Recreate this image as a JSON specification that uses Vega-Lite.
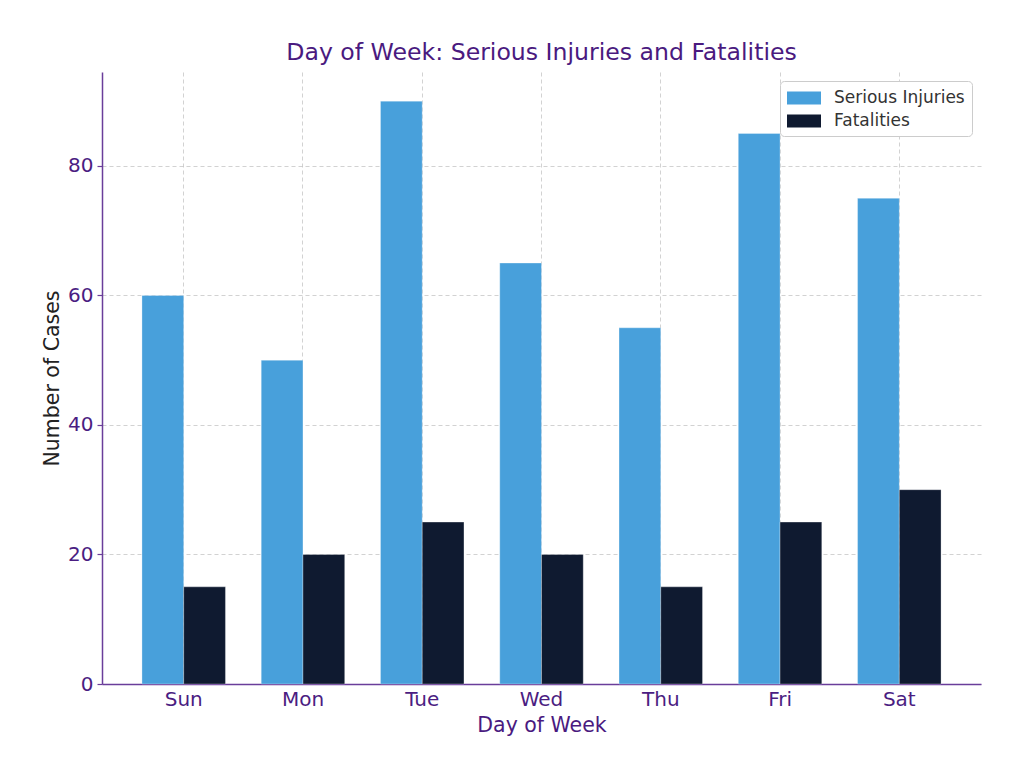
{
  "$schema": "https://vega.github.io/schema/vega-lite/v6.json",
  "autosize": {"type": "none"},
  "padding": {"left": 102, "top": 72, "right": 43, "bottom": 96},
  "width": 879,
  "height": 612,
  "background": "white",
  "title": {
    "text": "Day of Week: Serious Injuries and Fatalities",
    "anchor": "middle",
    "frame": "group",
    "offset": 7,
    "fontSize": 23.6,
    "fontWeight": "normal",
    "font": "DejaVu Sans",
    "color": "#4a1a7f"
  },
  "data": {
    "values": [
      {"day": "Sun", "type": "Serious Injuries", "cases": 60},
      {"day": "Sun", "type": "Fatalities", "cases": 15},
      {"day": "Mon", "type": "Serious Injuries", "cases": 50},
      {"day": "Mon", "type": "Fatalities", "cases": 20},
      {"day": "Tue", "type": "Serious Injuries", "cases": 90},
      {"day": "Tue", "type": "Fatalities", "cases": 25},
      {"day": "Wed", "type": "Serious Injuries", "cases": 65},
      {"day": "Wed", "type": "Fatalities", "cases": 20},
      {"day": "Thu", "type": "Serious Injuries", "cases": 55},
      {"day": "Thu", "type": "Fatalities", "cases": 15},
      {"day": "Fri", "type": "Serious Injuries", "cases": 85},
      {"day": "Fri", "type": "Fatalities", "cases": 25},
      {"day": "Sat", "type": "Serious Injuries", "cases": 75},
      {"day": "Sat", "type": "Fatalities", "cases": 30}
    ]
  },
  "mark": {"type": "bar", "stroke": "white", "strokeWidth": 0.5, "strokeOpacity": 0.6},
  "encoding": {
    "x": {
      "field": "day",
      "type": "nominal",
      "sort": ["Sun", "Mon", "Tue", "Wed", "Thu", "Fri", "Sat"],
      "scale": {"paddingInner": 0.3, "paddingOuter": 0.335},
      "axis": {
        "title": "Day of Week",
        "labelAngle": 0,
        "ticks": false,
        "grid": true,
        "bandPosition": 0.5,
        "labelPadding": 5,
        "titlePadding": 6,
        "titleColor": "#4a1a7f"
      }
    },
    "xOffset": {
      "field": "type",
      "type": "nominal",
      "sort": ["Serious Injuries", "Fatalities"],
      "scale": {"paddingInner": 0, "paddingOuter": 0}
    },
    "y": {
      "field": "cases",
      "type": "quantitative",
      "scale": {"domain": [0, 94.5], "nice": false},
      "axis": {
        "title": "Number of Cases",
        "values": [0, 20, 40, 60, 80],
        "tickSize": 5,
        "labelPadding": 4,
        "titlePadding": 5,
        "titleColor": "#222222"
      }
    },
    "color": {
      "field": "type",
      "type": "nominal",
      "sort": ["Serious Injuries", "Fatalities"],
      "scale": {"domain": ["Serious Injuries", "Fatalities"], "range": ["#48a0db", "#0f1a30"]},
      "legend": {
        "title": null,
        "orient": "top-right",
        "offset": 9,
        "padding": 7,
        "strokeColor": "#cccccc",
        "fillColor": "white",
        "cornerRadius": 4,
        "labelFontSize": 17,
        "labelColor": "#333333",
        "labelFont": "DejaVu Sans",
        "symbolType": "M-1.7,-0.65H1.7V0.65H-1.7Z",
        "symbolSize": 400,
        "symbolOffset": 7,
        "symbolStrokeWidth": 0,
        "symbolOpacity": 1,
        "labelOffset": 20,
        "rowPadding": 5
      }
    }
  },
  "config": {
    "font": "DejaVu Sans",
    "view": {"stroke": null},
    "axis": {
      "zindex": 1,
      "labelFont": "DejaVu Sans",
      "titleFont": "DejaVu Sans",
      "labelFontSize": 20,
      "titleFontSize": 20.5,
      "titleFontWeight": "normal",
      "labelColor": "#4b1d82",
      "domainColor": "#6a3d9a",
      "domainWidth": 1.5,
      "tickColor": "#6a3d9a",
      "tickWidth": 1.2,
      "gridColor": "#b8b8b8",
      "gridOpacity": 0.8,
      "gridDash": [4, 3],
      "gridWidth": 0.8
    }
  }
}
